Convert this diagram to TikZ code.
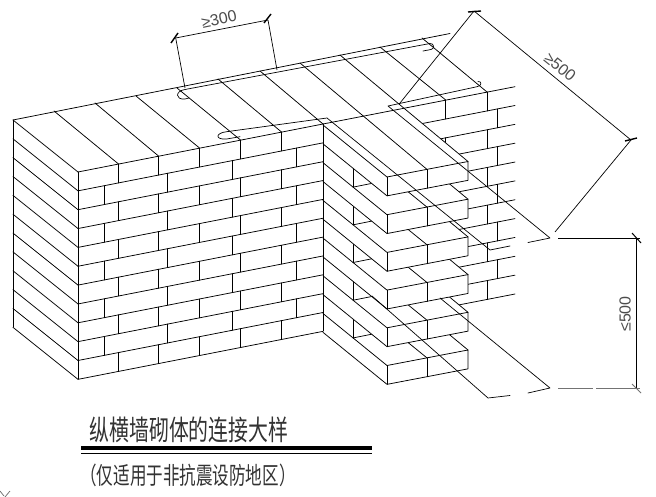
\documentclass[tikz,border=0pt]{standalone}
\usepackage{fontspec}
\setmainfont{Liberation Sans}
\newfontfamily\cjkfont{Noto Sans CJK SC}
\tikzset{
  wire/.style={draw=black,line width=0.75pt,line cap=round,line join=round},
  bar/.style={draw=black,line width=0.7pt,line cap=round,line join=round},
  dimline/.style={draw=black,line width=0.7pt},
  dimtick/.style={draw=black,line width=1.4pt},
  dimtext/.style={font=\fontsize{16}{16}\selectfont,text=black!70,inner sep=0pt},
}
\begin{document}
\begin{tikzpicture}[x=1pt,y=-1pt]
\useasboundingbox (0,0) rectangle (656,497);
\fill[white] (0,0) rectangle (656,497);
% ---- transverse wall behind the toothing
\foreach \k in {1,...,11}{
  \draw[wire] (400,{124+18.85*\k-0.1945*(400-323)}) -- (515,{124+18.85*\k-0.1945*(515-323)});
}
\foreach \k in {0,2,4,6,8,10}{
  \foreach \x in {445.7,487}{
    \draw[wire] (\x,{124+18.85*\k-0.1945*(\x-323)}) -- ++(0,18.85);
  }
}
\foreach \k in {1,3,5,7,9}{
  \draw[wire] (497,{124+18.85*\k-0.1945*(497-323)}) -- ++(0,18.85);
}
% ---- toothed bricks, lowest first
\foreach \j in {5,4,3,2,1,0}{
  \pgfmathsetmacro{\s}{37.7*\j}
  \fill[white] (323,{125+\s}) -- (404,{108+\s}) -- (468,{161.5+\s}) -- (468,{180.35+\s})
     -- (387,{195.85+\s}) -- (323,{143.85+\s}) -- cycle;
  \draw[wire] (323,{125+\s}) -- (387,{177+\s}) -- (468,{161.5+\s}) -- (468,{180.35+\s})
     -- (387,{195.85+\s}) -- (323,{143.85+\s});
  \draw[wire] (387,{177+\s}) -- (387,{195.85+\s});
  \draw[wire] (427,{169.4+\s}) -- ++(0,18.85);
  \ifnum\j>0
    \draw[wire] (427,{169.4+\s}) -- ++(-64,-52);
    \draw[wire] (468,{161.5+\s}) -- ++(-64,-53);
    % recess under the brick above
    \draw[wire] (353,{168.3+\s-37.7}) -- ++(0,18.85);
    \draw[wire] (353,{187.15+\s-37.7}) -- ++(30,-6);
  \fi
}
% ---- main wall, end face
\draw[wire] (13,120) -- (13,327);
\draw[wire] (78,172) -- (78,379);
\foreach \k in {0,...,11}{
  \draw[wire] (13,{120+18.85*\k}) -- (78,{172+18.85*\k});
  \draw[wire] (78,{172+18.85*\k}) -- (323,{124+18.85*\k});
}
% ---- main wall, long face
\foreach \k in {0,2,4,6,8,10}{
  \foreach \x in {118.5,158.5,199.5,240.5,281.5}{
    \draw[wire] (\x,{172+18.85*\k-0.196*(\x-78)}) -- ++(0,18.85);
  }
}
\foreach \k in {1,3,5,7,9}{
  \foreach \x in {104,167.5,232.5,296.5}{
    \draw[wire] (\x,{172+18.85*\k-0.196*(\x-78)}) -- ++(0,18.85);
  }
}
\draw[wire] (323,124) -- (323,331);
% ---- top face
\draw[wire] (13,120) -- (450,33.5);
\draw[wire] (323,124) -- (515,86.7);
\draw[wire] (118.5,164) -- (54,111);
\draw[wire] (158.5,156) -- (95,103);
\draw[wire] (199.5,148) -- (136,96);
\draw[wire] (240.5,140) -- (177,88);
\draw[wire] (281.5,132) -- (218,79);
\draw[wire] (323,124) -- (260,71);
\draw[wire] (427,169.4) -- (300,63);
\draw[wire] (468,161.5) -- (340,55);
\draw[wire] (445.7,100) -- (380,47);
\draw[wire] (487,92) -- (422,38);
% ---- reinforcing bars
\draw[bar] (189,98) -- (185,99) .. controls (175,100) and (175,91) .. (185,89.5) -- (430,43.5)
   .. controls (434,43) and (435,49) .. (431,49.5) -- (423,51);
\draw[bar] (240,136.7) -- (226.7,139) .. controls (215,140) and (215,133) .. (226.7,131.7) -- (327,118) -- (490,250) -- (510,246);
\draw[bar] (478,81.5) .. controls (482,81) and (482,86) .. (477,86.7) -- (388,106) -- (550,238) -- (528,242.5);
\draw[bar] (440,298) -- (550,388) -- (528,393);
\draw[bar] (372,296) -- (488,398) -- (510,395.5);
% ---- dimension >=300
\draw[dimline] (175.7,38) -- (268,20);
\draw[dimline] (175.7,38) -- (185,88);
\draw[dimline] (268,20) -- (277,70);
\draw[dimtick] (171,43) -- (178,33);
\draw[dimtick] (264,23) -- (271,14);
\node[dimtext,rotate=12] (t300) at (219,19) {≥300};
% ---- dimension >=500
\draw[dimline] (474,11) -- (631,140);
\draw[dimline] (474,11) -- (400,103);
\draw[dimline] (631,140) -- (555,232);
\draw[dimtick] (468,12) -- (481,11);
\draw[dimtick] (625,141) -- (637,138);
\node[dimtext,rotate=-39] (t500a) at (560,67) {≥500};
% ---- dimension <=500
\draw[dimline] (636.5,238) -- (636.5,388);
\draw[dimline] (558,238) -- (640,238);
\draw[dimline,draw=black!55] (558,388) -- (593,388);
\draw[dimline,draw=black!55] (596,388) -- (640,388);
\draw[dimline,line width=1pt] (632,233) -- (641,243);
\draw[dimline,line width=1pt,draw=black!55] (632,384) -- (641,393);
\node[dimtext,rotate=90] (t500b) at (625,314) {≤500};
% ---- title
\node[inner sep=0pt,text=black!80] (title) at (189,430) {\cjkfont\fontsize{28}{28}\selectfont\scalebox{0.71}[1]{纵横墙砌体的连接大样}};
\draw[line width=4pt] (81,448) -- (372,448);
\draw[line width=0.9pt] (81,453) -- (372,453);
\node[inner sep=0pt,text=black!80] (subtitle) at (188,475) {\cjkfont\fontsize{24}{24}\selectfont\scalebox{0.69}[1]{（仅适用于非抗震设防地区）}};
% ---- stray mark at the corner
\draw[dimline,draw=black!60] (0,491) -- (4,496) (10,491) -- (5,497);
\end{tikzpicture}
\end{document}
